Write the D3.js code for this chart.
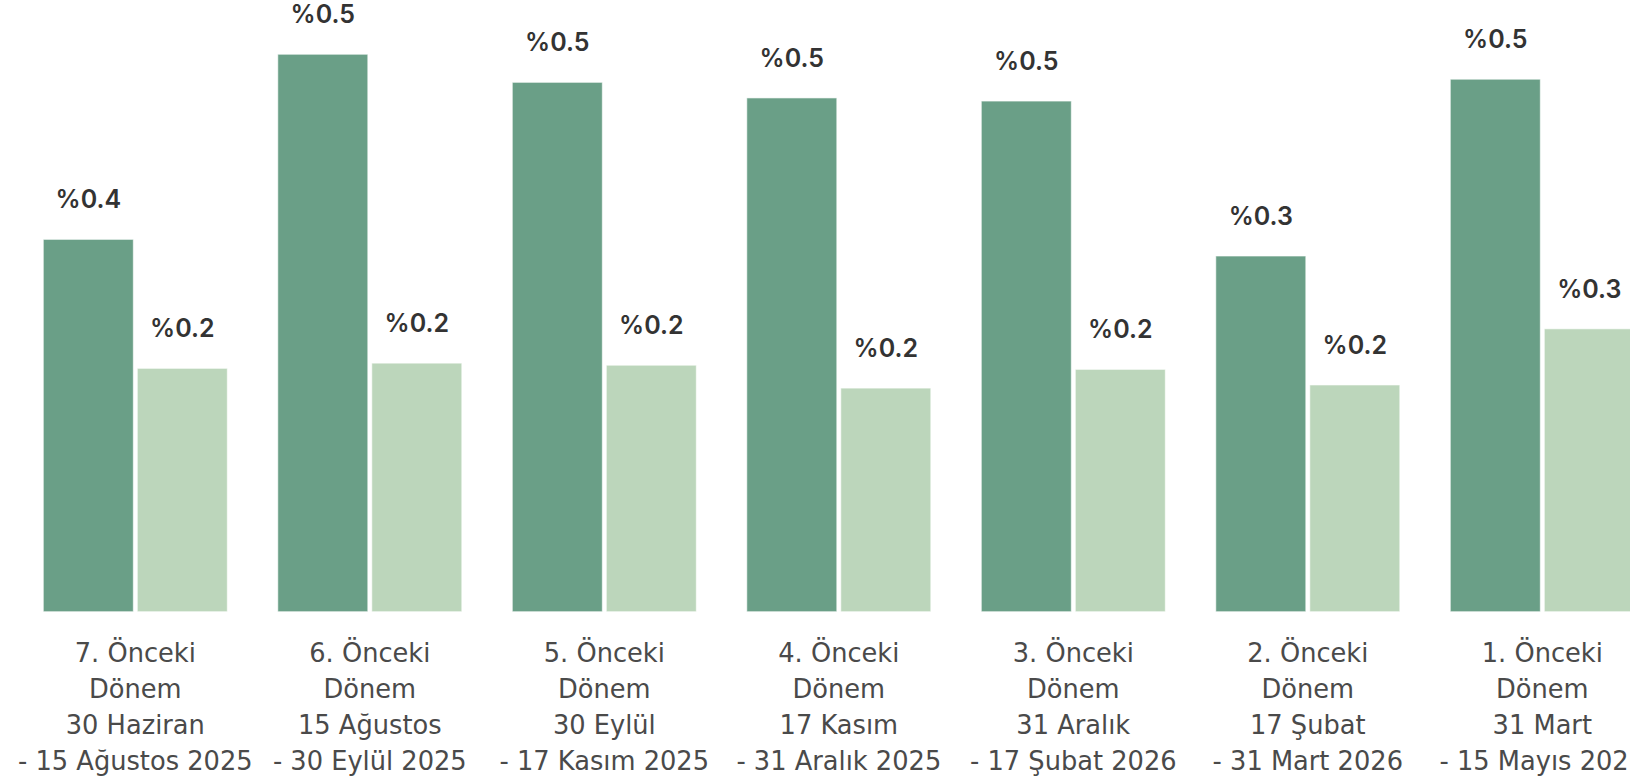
<!DOCTYPE html>
<html>
<head>
<meta charset="utf-8">
<script src="https://cdn.jsdelivr.net/npm/d3@7/dist/d3.min.js"></script>
<style>
  html, body { margin: 0; padding: 0; background: #ffffff; overflow: hidden; }
  svg { display: block; }
</style>
</head>
<body>
<svg id="chart" width="1630" height="783"></svg>
<script>
// ---- data ----
const categories = [
  "7. Önceki|Dönem|30 Haziran|- 15 Ağustos 2025",
  "6. Önceki|Dönem|15 Ağustos|- 30 Eylül 2025",
  "5. Önceki|Dönem|30 Eylül|- 17 Kasım 2025",
  "4. Önceki|Dönem|17 Kasım|- 31 Aralık 2025",
  "3. Önceki|Dönem|31 Aralık|- 17 Şubat 2026",
  "2. Önceki|Dönem|17 Şubat|- 31 Mart 2026",
  "1. Önceki|Dönem|31 Mart|- 15 Mayıs 2026"
];
const seriesKeys = ["a", "b"];
const seriesA = [0.358, 0.536, 0.509, 0.494, 0.491, 0.342, 0.512];
const seriesB = [0.234, 0.239, 0.237, 0.215, 0.233, 0.218, 0.272];
const seriesColors = ["#6a9f87", "#bcd6bb"];

// ---- layout ----
const svg = d3.select("#chart");
const baseY = 611.7;
const x0 = d3.scaleBand()
  .domain(categories)
  .range([43.3, 43.3 + 6 * 234.5 + 184])
  .paddingInner(50.5 / 234.5)
  .paddingOuter(0);
const x1 = d3.scaleBand()
  .domain(seriesKeys)
  .range([0, x0.bandwidth()])
  .paddingInner(4 / 94)
  .paddingOuter(0);
const y = d3.scaleLinear().domain([0, 0.55]).range([baseY, baseY - 0.55 * 1040]);
const color = d3.scaleOrdinal().domain(seriesKeys).range(seriesColors);
const fmt = v => "%" + d3.format(".1f")(v);

const rows = categories.map((c, i) => ({
  cat: c,
  vals: [{ key: "a", v: seriesA[i] }, { key: "b", v: seriesB[i] }]
}));

const groups = svg.selectAll("g.grp").data(rows).join("g")
  .attr("class", "grp")
  .attr("transform", d => `translate(${x0(d.cat)},0)`);

groups.selectAll("rect").data(d => d.vals).join("rect")
  .attr("x", d => x1(d.key))
  .attr("y", d => y(d.v))
  .attr("width", x1.bandwidth())
  .attr("height", d => y(0) - y(d.v))
  .attr("fill", d => color(d.key))
  .attr("stroke", "#ffffff")
  .attr("stroke-opacity", 0.6)
  .attr("stroke-width", 1);

groups.selectAll("text.val").data(d => d.vals).join("text")
  .attr("class", "val")
  .attr("x", d => x1(d.key) + x1.bandwidth() / 2)
  .attr("y", d => y(d.v) - 31)
  .attr("text-anchor", "middle")
  .attr("font-family", "Inter, 'DejaVu Sans', sans-serif")
  .attr("font-weight", 600)
  .attr("font-size", 25)
  .attr("fill", "#333333")
  .text(d => fmt(d.v));

// category labels (x axis without line/ticks)
const xAxis = d3.axisBottom(x0).tickSize(0).tickPadding(0);
const axisG = svg.append("g")
  .attr("transform", `translate(0,${baseY})`)
  .call(xAxis);
axisG.select(".domain").remove();
axisG.selectAll(".tick text").each(function(d) {
  const t = d3.select(this);
  t.text(null)
    .attr("y", 0)
    .attr("dy", null)
    .attr("font-family", "'DejaVu Sans', sans-serif")
    .attr("font-size", 25.7)
    .attr("fill", "#4a4a4a")
    .attr("text-anchor", "middle");
  d.split("|").forEach((line, i) => {
    t.append("tspan").attr("x", 0).attr("y", 50 + i * 36).text(line);
  });
});
</script>
</body>
</html>
